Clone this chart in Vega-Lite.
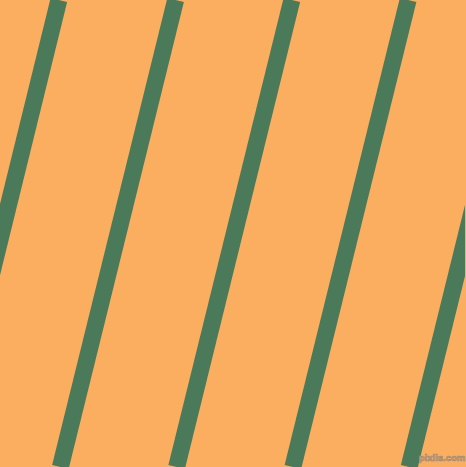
{
  "$schema": "https://vega.github.io/schema/vega-lite/v6.json",
  "width": 466,
  "height": 467,
  "autosize": {"type": "fit", "contains": "padding"},
  "padding": 0,
  "background": "#FBAE60",
  "config": {"view": {"stroke": null}},
  "layer": [
    {
      "data": {
        "values": [
          {"stripe": 1, "x": 59, "y": 0},
          {"stripe": 1, "x": -56, "y": 467},
          {"stripe": 2, "x": 176, "y": 0},
          {"stripe": 2, "x": 60.5, "y": 467},
          {"stripe": 3, "x": 292.5, "y": 0},
          {"stripe": 3, "x": 177, "y": 467},
          {"stripe": 4, "x": 409, "y": 0},
          {"stripe": 4, "x": 293.5, "y": 467},
          {"stripe": 5, "x": 525.5, "y": 0},
          {"stripe": 5, "x": 410, "y": 467}
        ]
      },
      "mark": {"type": "line", "color": "#4A7A5A", "strokeWidth": 17, "clip": true, "strokeCap": "butt"},
      "encoding": {
        "x": {"field": "x", "type": "quantitative", "scale": {"domain": [0, 466], "nice": false, "zero": false}, "axis": null},
        "y": {"field": "y", "type": "quantitative", "scale": {"domain": [0, 467], "nice": false, "zero": false, "reverse": true}, "axis": null},
        "detail": {"field": "stripe", "type": "nominal"}
      }
    },
    {
      "data": {"values": [{"label": "pixlis.com", "x": 443, "y": 461}]},
      "mark": {"type": "text", "font": "Liberation Sans", "fontSize": 9.5, "fontWeight": "bold", "fill": "#E9A966", "stroke": "#9a8a78", "strokeWidth": 0.7, "baseline": "alphabetic", "align": "center"},
      "encoding": {
        "x": {"field": "x", "type": "quantitative", "scale": {"domain": [0, 466], "nice": false, "zero": false}, "axis": null},
        "y": {"field": "y", "type": "quantitative", "scale": {"domain": [0, 467], "nice": false, "zero": false, "reverse": true}, "axis": null},
        "text": {"field": "label"}
      }
    }
  ]
}
